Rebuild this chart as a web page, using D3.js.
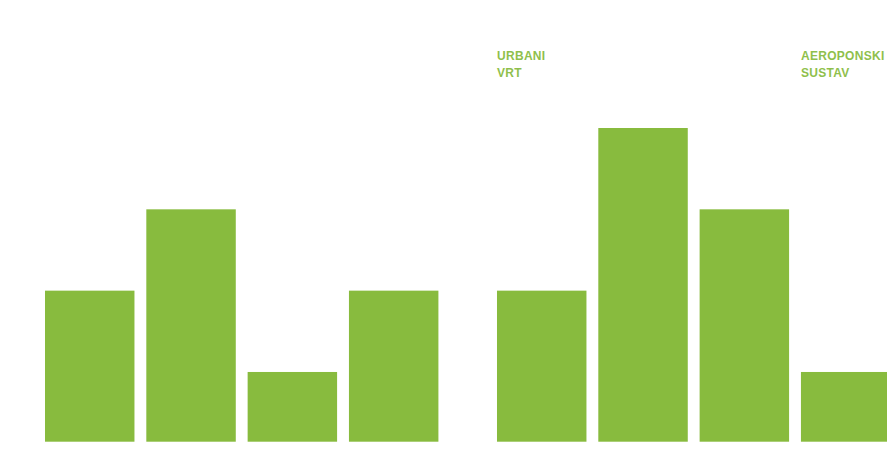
<!DOCTYPE html>
<html>
<head>
<meta charset="utf-8">
<script src="https://cdn.jsdelivr.net/npm/d3@7"></script>
<style>
html,body{margin:0;padding:0;background:#fff;overflow:hidden;}
svg{display:block;}
</style>
</head>
<body>
<svg id="chart" width="887" height="467"></svg>
<script>
const groups = ["g1", "g2"];
const barKeys = ["b1", "b2", "b3", "b4"];
const group1Values = [2, 3, 1, 2];
const group2Values = [2, 4, 3, 1];
const group2Labels = [["URBANI", "VRT"], [], [], ["AEROPONSKI", "SUSTAV"]];

const data = [
  ...barKeys.map((k, i) => ({group: "g1", key: k, value: group1Values[i], label: []})),
  ...barKeys.map((k, i) => ({group: "g2", key: k, value: group2Values[i], label: group2Labels[i]}))
];

const svg = d3.select("#chart");
const barColor = "#88bb3e";
const textColor = "#8fbf4c";
const baseline = 441.7;

const x0 = d3.scaleBand().domain(groups).range([45, 890.4]).paddingInner(0.1296).paddingOuter(0);
const x1 = d3.scaleBand().domain(barKeys).range([0, x0.bandwidth()]).paddingInner(0.117).paddingOuter(0);
const y = d3.scaleLinear().domain([0, 4]).range([453.3, 128]);

svg.append("g").selectAll("rect").data(data).join("rect")
  .attr("x", d => x0(d.group) + x1(d.key))
  .attr("y", d => y(d.value))
  .attr("width", x1.bandwidth())
  .attr("height", d => baseline - y(d.value))
  .attr("fill", barColor);

const lbl = svg.append("g").selectAll("text").data(data.filter(d => d.label.length)).join("text")
  .attr("x", d => x0(d.group) + x1(d.key))
  .attr("y", 59.5)
  .attr("fill", textColor)
  .style("font-family", "'Liberation Sans', Arial, sans-serif")
  .style("font-size", "12px")
  .style("font-weight", "bold")
  .style("letter-spacing", "0.3px");
lbl.selectAll("tspan").data(d => d.label.map(t => ({t, x: x0(d.group) + x1(d.key)}))).join("tspan")
  .attr("x", t => t.x)
  .attr("dy", (t, i) => i === 0 ? 0 : 17.5)
  .text(t => t.t);
</script>
</body>
</html>
